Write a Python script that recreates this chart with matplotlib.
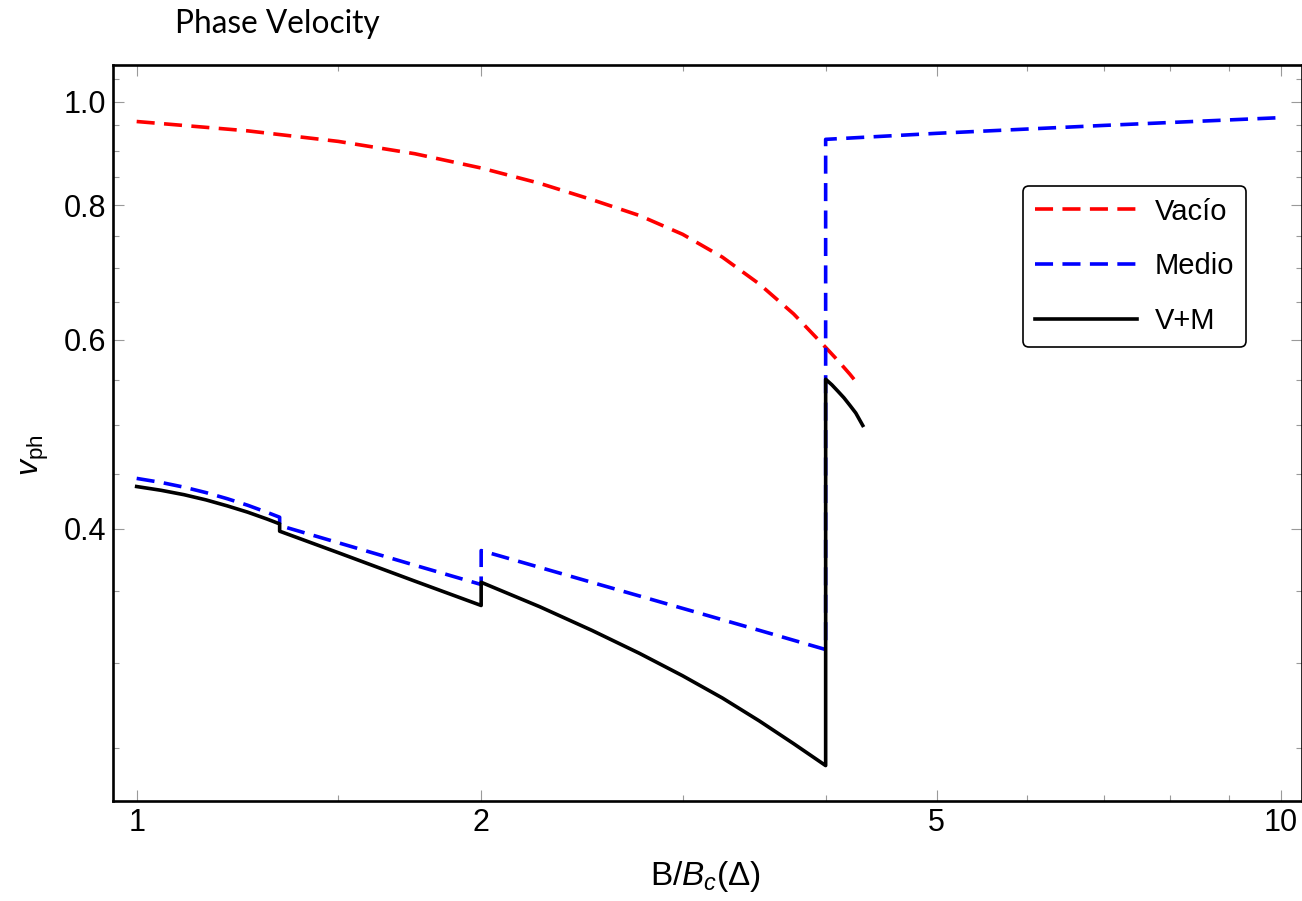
import matplotlib
matplotlib.use("Agg")
import matplotlib.pyplot as plt
from matplotlib.ticker import FixedLocator, FixedFormatter, NullFormatter

plt.rcParams["font.family"] = ["Liberation Sans", "DejaVu Sans"]
plt.rcParams["mathtext.fontset"] = "custom"
plt.rcParams["mathtext.rm"] = "Liberation Sans"
plt.rcParams["mathtext.it"] = "Liberation Sans:italic"

# Phase velocity versus B/Bc(Delta)
x_vac = [1.0, 1.25, 1.5, 1.75, 2.0, 2.25, 2.5, 2.75, 3.0, 3.25, 3.5, 3.75, 4.0,
         4.1, 4.2, 4.27]
v_vac = [0.958, 0.939, 0.918, 0.894, 0.867, 0.839, 0.810, 0.783, 0.752, 0.716,
         0.676, 0.634, 0.590, 0.5735, 0.557, 0.545]

x_med = [1.0, 1.05, 1.1, 1.15, 1.2, 1.25, 1.3, 4/3, 4/3, 1.5, 1.75, 2.0, 2.0,
         2.5, 3.0, 3.5, 4.0, 4.0, 5.0, 7.0, 10.0]
v_med = [0.4454, 0.4416, 0.4371, 0.4320, 0.4264, 0.4205, 0.4141, 0.4098, 0.4026,
         0.388, 0.3697, 0.3547, 0.3815, 0.3563, 0.337, 0.3215, 0.3085, 0.922,
         0.934, 0.950, 0.966]

x_tot = [1.0, 1.05, 1.1, 1.15, 1.2, 1.25, 1.3, 4/3, 4/3, 1.5, 1.75, 2.0, 2.0,
         2.25, 2.5, 2.75, 3.0, 3.25, 3.5, 3.75, 4.0, 4.0, 4.05, 4.1, 4.15, 4.2,
         4.25, 4.31]
v_tot = [0.4377, 0.4342, 0.4301, 0.4253, 0.4199, 0.4143, 0.4082, 0.4040, 0.3977,
         0.3798, 0.3573, 0.3391, 0.3564, 0.3382, 0.3214, 0.306, 0.2916, 0.278,
         0.2647, 0.2521, 0.2405, 0.551, 0.5445, 0.537, 0.5295, 0.521, 0.5125,
         0.499]

labels = ["Vacío", "Medio", "V+M"]

x_major = [1, 2, 5, 10]
x_major_labels = ["1", "2", "5", "10"]
x_minor = [1.5, 3, 4, 6, 7, 8, 9]
y_major = [0.4, 0.6, 0.8, 1.0]
y_major_labels = ["0.4", "0.6", "0.8", "1.0"]
y_minor = [0.25, 0.3, 0.35, 0.45, 0.5, 0.55, 0.65, 0.7, 0.75, 0.85, 0.9, 0.95, 1.05]

W, H = 1302, 901
fig = plt.figure(figsize=(W / 100, H / 100), dpi=100)
ax = fig.add_axes([113 / W, 1 - 801 / H, (1301.5 - 113) / W, (801 - 65) / H])

lw = 2.6
ax.plot(x_vac, v_vac, color="#ff0000", lw=lw, dashes=(5, 2.6), label=labels[0])
ax.plot(x_med, v_med, color="#0000ff", lw=lw, dashes=(5, 2.6), label=labels[1])
ax.plot(x_tot, v_tot, color="black", lw=lw, label=labels[2])

ax.set_xscale("log")
ax.set_yscale("log")
ax.set_xlim(0.9535, 10.42)
ax.set_ylim(0.2229, 1.0815)

ax.xaxis.set_major_locator(FixedLocator(x_major))
ax.xaxis.set_major_formatter(FixedFormatter(x_major_labels))
ax.xaxis.set_minor_locator(FixedLocator(x_minor))
ax.xaxis.set_minor_formatter(NullFormatter())
ax.yaxis.set_major_locator(FixedLocator(y_major))
ax.yaxis.set_major_formatter(FixedFormatter(y_major_labels))
ax.yaxis.set_minor_locator(FixedLocator(y_minor))
ax.yaxis.set_minor_formatter(NullFormatter())

tick_col = "#9a9a9a"
ax.tick_params(which="both", direction="in", top=True, right=True, color=tick_col,
               width=0.8, labelsize=22)
ax.tick_params(which="major", length=8)
ax.tick_params(which="minor", length=4)
ax.tick_params(axis="x", which="major", pad=5)
ax.tick_params(axis="y", which="major", pad=5)

for s in ax.spines.values():
    s.set_linewidth(1.9)
    s.set_color("black")

leg = ax.legend(loc="upper left", bbox_to_anchor=(1023 / W, 1 - 186 / H),
                bbox_transform=fig.transFigure, fontsize=21, frameon=True,
                fancybox=True, handlelength=3.5, handletextpad=0.62,
                labelspacing=0.92, borderpad=0.4, borderaxespad=0)
frame = leg.get_frame()
frame.set_edgecolor("black")
frame.set_linewidth(1.2)
frame.set_alpha(1)

fig.text(175 / W, 1 - 33 / H, "Phase Velocity", fontsize=22.8,
         family=["Lato", "DejaVu Sans"], ha="left", va="baseline")
fig.text(705 / W, 1 - 877 / H, r"B/$B_c$(Δ)", fontsize=24, ha="center", va="center")
fig.text(35 / W, 1 - 455 / H, r"$v_{\mathrm{ph}}$", fontsize=23, rotation=90,
         ha="center", va="center")

fig.savefig("out.png", dpi=100)
